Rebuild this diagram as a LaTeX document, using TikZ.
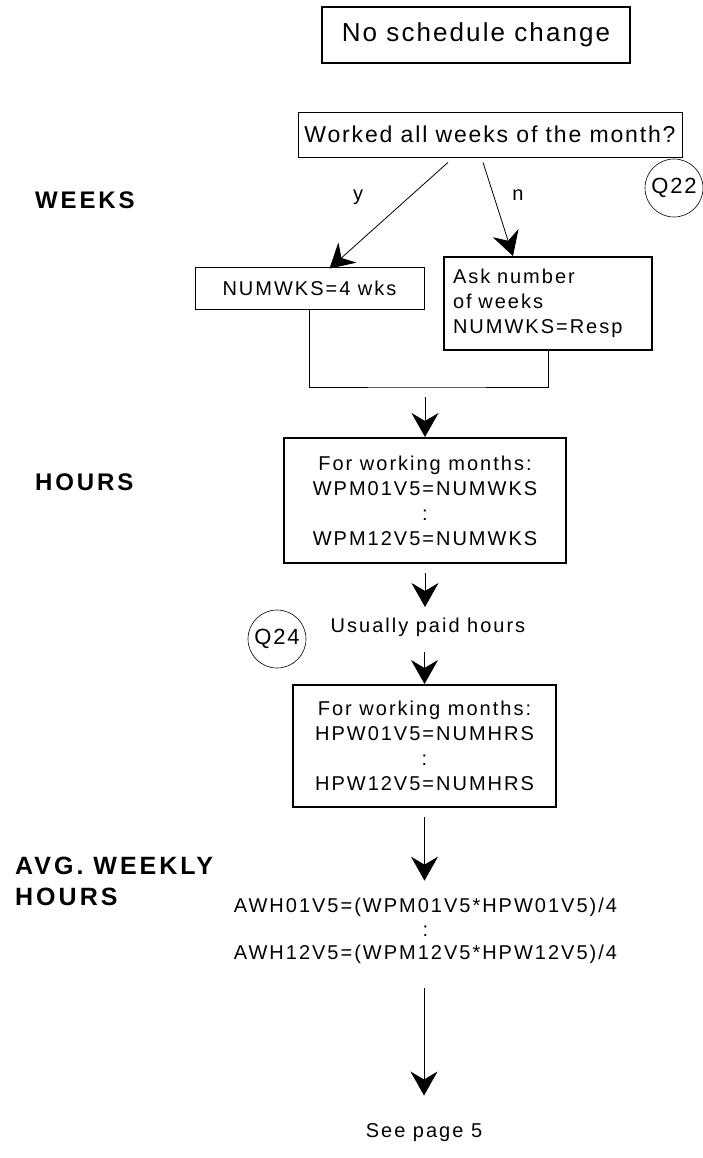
\documentclass[tikz,border=0pt]{standalone}
\usepackage{fontspec}
\setmainfont{Liberation Sans}
\newfontfamily\spacedfont[LetterSpace=10]{Liberation Sans}
\newfontfamily\tightfont[LetterSpace=8]{Liberation Sans}
\newfontfamily\widefont[LetterSpace=12]{Liberation Sans}
\usetikzlibrary{arrows.meta,positioning}

\tikzset{
  plain/.style={font=\spacedfont\fontsize{20}{25}\selectfont},
  thinbox/.style={draw, line width=0.8pt, plain},
  thickbox/.style={draw, line width=2pt, plain},
  qcircle/.style={draw, circle, line width=0.6pt, minimum size=58pt, inner sep=0pt,
                  font=\tightfont\fontsize{22}{26}\selectfont},
  sidelabel/.style={font=\widefont\bfseries\fontsize{24}{30}\selectfont, anchor=north west, align=left, inner sep=0pt},
  arr/.style={-{Stealth[length=24pt,width=27pt,inset=8pt]}, line width=0.8pt},
  link/.style={line width=0.8pt},
}

\begin{document}
\begin{tikzpicture}[x=1pt,y=-1pt]
  \useasboundingbox (0,0) rectangle (703,1158);

  % section labels
  \node[sidelabel] (lblweeks) at (35,192) {WEEKS};
  \node[sidelabel] (lblhours) at (35,474) {HOURS};
  \node[sidelabel, font=\widefont\bfseries\fontsize{25}{31}\selectfont] (lblavg) at (15,857) {AVG. WEEKLY\\HOURS};

  % weeks
  \node[thickbox, line width=1.6pt, minimum width=308pt, minimum height=56pt,
        font=\tightfont\fontsize{26}{30}\selectfont] (nochange) at (476,35) {No schedule change};
  \node[thinbox, minimum width=384pt, minimum height=45pt,
        font=\tightfont\fontsize{23}{26}\selectfont] (worked) at (490,134.5) {Worked all weeks of the month?};
  \node[qcircle] (q22) at (674,188) {Q22};
  \node[plain, anchor=base] (yes) at (358,201) {y};
  \node[plain, anchor=base] (no) at (518,201) {n};
  \node[thinbox, minimum width=229pt, minimum height=42pt] (numwks) at (309.5,288) {NUMWKS=4 wks};
  \node[thickbox, minimum width=208pt, minimum height=93pt, text width=190pt, align=left]
        (ask) at (548,303.5) {Ask number\\of weeks\\NUMWKS=Resp};
  \draw[arr] ([xshift=-42pt,yshift=-5pt]worked.south) -- ([xshift=20pt,yshift=-2pt]numwks.north);
  \draw[arr] ([xshift=-7pt,yshift=-5pt]worked.south) -- ([xshift=-35pt]ask.north);
  \coordinate (merge) at (425,387);
  \draw[link] (numwks.south) |- (merge) -| (ask.south);

  \node[thickbox, minimum width=282pt, minimum height=125pt, align=center]
        (wpm) at (425,500.5) {For working months:\\WPM01V5=NUMWKS\\:\\WPM12V5=NUMWKS};
  \draw[arr] ([yshift=-10pt]merge) -- (wpm.north);

  % hours
  \node[plain, anchor=base] (paid) at (428,632) {Usually paid hours};
  \node[qcircle] (q24) at (277,639) {Q24};
  \draw[arr, shorten <=9pt, shorten >=7pt] (wpm.south) -- (wpm.south |- paid.north);
  \node[thickbox, minimum width=263pt, minimum height=122pt, align=center]
        (hpw) at (424.5,746) {For working months:\\HPW01V5=NUMHRS\\:\\HPW12V5=NUMHRS};
  \draw[arr, shorten <=12pt] (hpw.north |- paid.south) -- (hpw.north);

  % avg. weekly hours
  \node[plain, font=\spacedfont\fontsize{20}{23.5}\selectfont, align=center]
        (awh) at (425.5,931) {AWH01V5=(WPM01V5*HPW01V5)/4\\:\\AWH12V5=(WPM12V5*HPW12V5)/4};
  \draw[arr, shorten <=9pt, shorten >=14pt] (hpw.south) -- (hpw.south |- awh.north);
  \node[plain, anchor=base] (seepage) at (424,1137) {See page 5};
  \draw[arr, shorten <=21pt, shorten >=24pt] (awh.south -| seepage.north) -- (seepage.north);
\end{tikzpicture}
\end{document}
